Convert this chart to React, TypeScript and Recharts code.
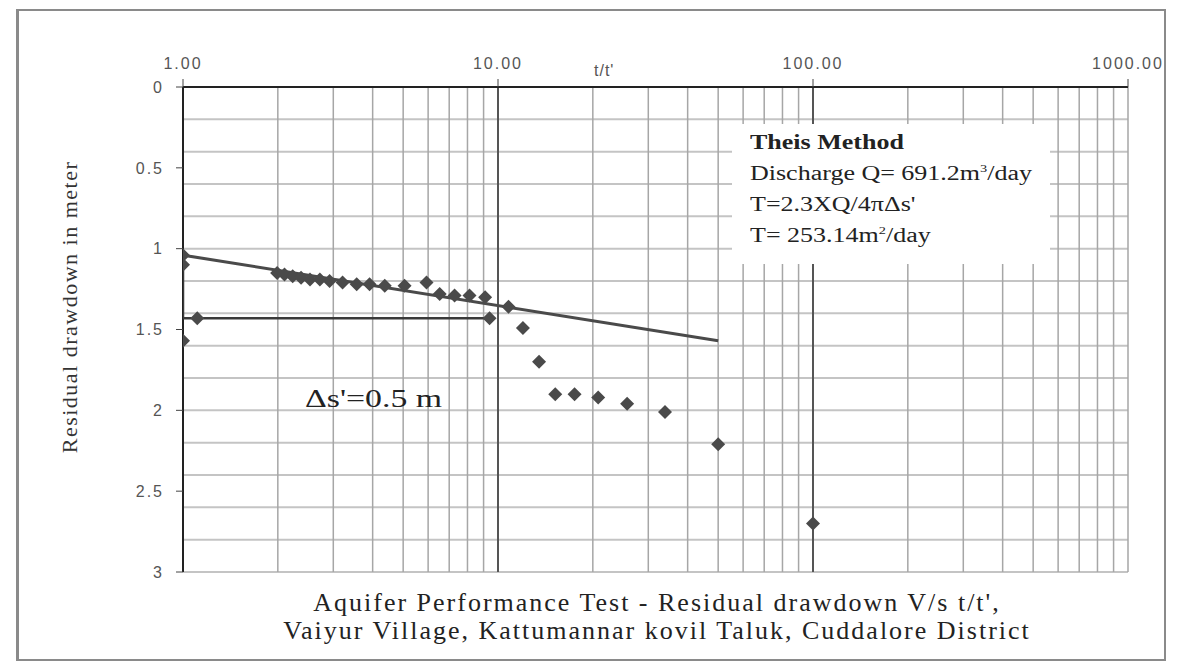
import {
  CartesianGrid,
  ReferenceLine,
  Scatter,
  ScatterChart,
  XAxis,
  YAxis,
} from 'recharts';

// Observed residual drawdown (t/t' vs s')
const tRatio = [
  1.0, 1.0, 1.0, 1.99, 2.1, 2.23, 2.37, 2.53, 2.72, 2.92, 3.21, 3.56, 3.91,
  4.37, 5.05, 5.93, 6.53, 7.28, 8.12, 9.1, 10.8, 12.0, 13.5, 15.2, 17.5, 20.8,
  25.7, 33.9, 50, 100,
];
const drawdown = [
  1.04, 1.1, 1.57, 1.15, 1.16, 1.17, 1.18, 1.19, 1.19, 1.2, 1.21, 1.22, 1.22,
  1.23, 1.23, 1.21, 1.28, 1.29, 1.29, 1.3, 1.36, 1.49, 1.7, 1.9, 1.9, 1.92,
  1.96, 2.01, 2.21, 2.7,
];

// straight-line fit through the early data
const fitX = [1, 50];
const fitY = [1.04, 1.57];

// delta s' construction
const deltaX = [1, 1, 9.4];
const deltaY = [1.05, 1.43, 1.43];
const deltaMarkX = [1.11, 9.4];
const deltaMarkY = [1.43, 1.43];

const xTicks = [1, 10, 100, 1000];
const yTicks = [0, 0.5, 1, 1.5, 2, 2.5, 3];
const hGrid = [
  0.1, 0.2, 0.3, 0.4, 0.5, 0.6, 0.7, 0.8, 0.9, 1, 1.1, 1.2, 1.3, 1.4, 1.5, 1.6,
  1.7, 1.8, 1.9, 2, 2.1, 2.2, 2.3, 2.4, 2.5, 2.6, 2.7, 2.8, 2.9, 3,
];
const vMinor = [
  2, 3, 4, 5, 6, 7, 8, 9, 20, 30, 40, 50, 60, 70, 80, 90, 200, 300, 400, 500,
  600, 700, 800, 900, 1000,
];
const vMajor = [10, 100];

const toPoints = (xs: number[], ys: number[]) =>
  xs.map((x, i) => ({ x, y: ys[i] }));

const observed = toPoints(tRatio, drawdown);
const fitLine = toPoints(fitX, fitY);
const deltaLine = toPoints(deltaX, deltaY);
const deltaMarks = toPoints(deltaMarkX, deltaMarkY);

const serif = '"Liberation Serif", "Times New Roman", serif';
const sans = '"Liberation Sans", Arial, sans-serif';

const Diamond = (props: any) => {
  const { cx, cy } = props;
  const r = 7;
  return (
    <path
      d={`M${cx},${cy - r}L${cx + r},${cy}L${cx},${cy + r}L${cx - r},${cy}Z`}
      fill="#4a4a4a"
    />
  );
};

const NoMark = () => <g />;

const tickStyle = {
  fill: '#555',
  fontSize: 16,
  fontFamily: sans,
  letterSpacing: 2,
};

export default function App() {
  return (
    <div
      style={{
        position: 'absolute',
        left: 0,
        top: 0,
        width: 1182,
        height: 667,
        background: '#fff',
        overflow: 'hidden',
      }}
    >
      <div
        style={{
          position: 'absolute',
          left: 16,
          top: 9,
          width: 1150,
          height: 652,
          border: '2px solid #8a8a8a',
          borderLeftWidth: 3,
          boxSizing: 'border-box',
        }}
      />
      <div style={{ position: 'absolute', left: 0, top: 0 }}>
        <ScatterChart
          width={1182}
          height={667}
          margin={{ top: 47, right: 54, bottom: 95, left: 113 }}
        >
          <CartesianGrid
            horizontalValues={hGrid}
            vertical={false}
            stroke="#c4c4c4"
            strokeWidth={2}
          />
          {vMinor.map((v) => (
            <ReferenceLine
              key={`m${v}`}
              x={v}
              stroke="#a6a6a6"
              strokeWidth={1.5}
            />
          ))}
          {vMajor.map((v) => (
            <ReferenceLine key={`M${v}`} x={v} stroke="#555" strokeWidth={2} />
          ))}
          <XAxis
            type="number"
            dataKey="x"
            scale="log"
            domain={[1, 1000]}
            allowDataOverflow
            orientation="top"
            ticks={xTicks}
            tickFormatter={(v: number) => v.toFixed(2)}
            height={40}
            axisLine={{ stroke: '#222', strokeWidth: 2 }}
            tickLine={{ stroke: '#444' }}
            tickSize={8}
            tickMargin={10}
            tick={tickStyle}
          />
          <YAxis
            type="number"
            dataKey="y"
            reversed
            domain={[0, 3]}
            ticks={yTicks}
            width={70}
            axisLine={{ stroke: '#222', strokeWidth: 2 }}
            tickLine={{ stroke: '#444' }}
            tickSize={7}
            tickMargin={12}
            tick={tickStyle}
          />
          <Scatter
            data={fitLine}
            line={{ stroke: '#4a4a4a', strokeWidth: 3 }}
            shape={NoMark}
            isAnimationActive={false}
          />
          <Scatter
            data={deltaLine}
            line={{ stroke: '#3a3a3a', strokeWidth: 2.5 }}
            shape={NoMark}
            isAnimationActive={false}
          />
          <Scatter data={deltaMarks} shape={Diamond} isAnimationActive={false} />
          <Scatter data={observed} shape={Diamond} isAnimationActive={false} />
        </ScatterChart>
      </div>

      <div
        style={{
          position: 'absolute',
          left: 594,
          top: 62,
          fontFamily: sans,
          fontSize: 16,
          letterSpacing: 1,
          color: '#555',
        }}
      >
        t/t'
      </div>

      <div
        style={{
          position: 'absolute',
          left: 70,
          top: 307,
          transform: 'translate(-50%, -50%) rotate(-90deg)',
          whiteSpace: 'nowrap',
          fontFamily: serif,
          fontSize: 22,
          letterSpacing: 1.5,
          color: '#333',
        }}
      >
        Residual drawdown in meter
      </div>

      <div
        style={{
          position: 'absolute',
          left: 732,
          top: 124,
          width: 318,
          height: 140,
          background: '#fff',
        }}
      />
      <div
        style={{
          position: 'absolute',
          left: 750,
          top: 127,
          transform: 'scaleX(1.3)',
          transformOrigin: 'left top',
          whiteSpace: 'nowrap',
          fontFamily: serif,
          fontSize: 20,
          color: '#222',
          lineHeight: '31px',
        }}
      >
        <div style={{ fontWeight: 'bold' }}>Theis Method</div>
        <div>
          Discharge Q= 691.2m
          <sup style={{ fontSize: 11, lineHeight: 0 }}>3</sup>/day
        </div>
        <div>T=2.3XQ/4πΔs'</div>
        <div>
          T= 253.14m<sup style={{ fontSize: 11, lineHeight: 0 }}>2</sup>/day
        </div>
      </div>

      <div
        style={{
          position: 'absolute',
          left: 305,
          top: 384,
          transform: 'scaleX(1.3)',
          transformOrigin: 'left top',
          whiteSpace: 'nowrap',
          fontFamily: serif,
          fontSize: 26,
          color: '#222',
        }}
      >
        Δs'=0.5 m
      </div>

      <div
        style={{
          position: 'absolute',
          left: 0,
          width: 1314,
          top: 589,
          textAlign: 'center',
          fontFamily: serif,
          fontSize: 26,
          letterSpacing: 2,
          lineHeight: '28px',
          color: '#222',
          whiteSpace: 'nowrap',
        }}
      >
        <div>Aquifer Performance Test - Residual drawdown V/s t/t',</div>
        <div>Vaiyur Village, Kattumannar kovil Taluk, Cuddalore District</div>
      </div>
    </div>
  );
}
